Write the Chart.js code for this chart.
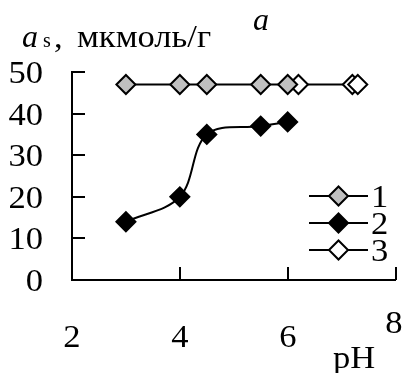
<!DOCTYPE html>
<html><head><meta charset="utf-8">
<script src="https://cdn.jsdelivr.net/npm/chart.js@4/dist/chart.umd.min.js"></script>
<style>html,body{margin:0;padding:0;background:#fff}#wrap{width:407px;height:373px}</style>
</head><body><div id="wrap"><canvas id="c" width="407" height="373"></canvas></div>
<script>
const series1X = [3, 4, 4.5, 5.5, 6];
const series1Y = [47, 47, 47, 47, 47];
const series2X = [3, 4, 4.5, 5.5, 6];
const series2Y = [14, 20, 35, 37, 38];
const series3X = [6.2, 7.2, 7.3];
const series3Y = [47, 47, 47];
const seriesNames = ['1', '2', '3'];
const xTicks = [2, 4, 6, 8];
const yTicks = [0, 10, 20, 30, 40, 50];
const FONT = '"Liberation Serif", "Times New Roman", serif';
const SX = 1.08;

function pts(xs, ys){ return xs.map((x,i)=>({x, y: ys[i]})); }

const fills = ['#c0c0c0', '#000000', '#ffffff'];
const datasets = [
  {label: seriesNames[0], data: pts(series1X, series1Y)},
  {label: seriesNames[1], data: pts(series2X, series2Y)},
  {label: seriesNames[2], data: pts(series3X, series3Y)}
].map((d,i)=>Object.assign(d,{
  borderColor:'#000', borderWidth:2, tension:0.35,
  pointStyle:'rectRot', pointRadius:9.5, pointBorderWidth:2,
  pointBackgroundColor: fills[i], pointBorderColor:'#000', fill:false
}));

function txt(ctx, s, x, y, size, style, align, sx){
  ctx.save();
  ctx.translate(x, y); ctx.scale(sx || SX, 1);
  ctx.font = (style ? style + ' ' : '') + size + 'px ' + FONT;
  ctx.textAlign = align || 'left';
  ctx.textBaseline = 'alphabetic';
  ctx.fillStyle = '#000';
  ctx.fillText(s, 0, 0);
  ctx.restore();
}

const decor = {
  id:'decor',
  afterDraw(chart){
    const ctx = chart.ctx, xs = chart.scales.x, ys = chart.scales.y;
    ctx.save();
    ctx.strokeStyle = '#000'; ctx.lineWidth = 2;
    // inward ticks + tick labels
    yTicks.forEach(v=>{ const p = Math.round(ys.getPixelForValue(v));
      ctx.beginPath(); ctx.moveTo(xs.left, p); ctx.lineTo(xs.left+13, p); ctx.stroke();
      txt(ctx, String(v), 43, p + 11, 32, '', 'right');
    });
    xTicks.forEach((v,i)=>{ const p = Math.round(xs.getPixelForValue(v));
      ctx.beginPath(); ctx.moveTo(p, ys.bottom); ctx.lineTo(p, ys.bottom-13); ctx.stroke();
      const yb = (i === xTicks.length-1) ? 333 : 347;
      txt(ctx, String(v), p - (i === xTicks.length-1 ? 2 : 0), yb, 32, '', 'center');
    });
    // legend
    const lx0 = 309, lx1 = 368, lys = [196, 223, 250];
    chart.data.datasets.forEach((d,i)=>{
      const y = lys[i];
      ctx.beginPath(); ctx.moveTo(lx0, y); ctx.lineTo(lx1, y); ctx.stroke();
      ctx.fillStyle = fills[i];
      ctx.beginPath();
      const r = 9.5, cx=(lx0+lx1)/2;
      ctx.moveTo(cx-r,y); ctx.lineTo(cx,y-r); ctx.lineTo(cx+r,y); ctx.lineTo(cx,y+r); ctx.closePath();
      ctx.fill(); ctx.stroke();
      txt(ctx, d.label, 371, y + 11, 32, '', 'left');
    });
    // titles
    txt(ctx, 'a', 253, 30, 32, 'italic', 'left', 1);
    txt(ctx, 'a', 22, 47, 32, 'italic', 'left', 1);
    txt(ctx, 's', 43, 47, 20, '', 'left', 1);
    txt(ctx, ',', 54, 47, 32, '', 'left');
    txt(ctx, 'мкмоль/г', 77, 47, 32, '', 'left');
    txt(ctx, 'pH', 333, 368, 32, '', 'left');
    ctx.restore();
  }
};

new Chart(document.getElementById('c'), {
  type:'line',
  data:{datasets},
  options:{
    responsive:false, animation:false, devicePixelRatio:1,
    layout:{padding:{left:0, right:10, top:72, bottom:0}},
    plugins:{legend:{display:false}, tooltip:{enabled:false}, title:{display:false}},
    scales:{
      x:{type:'linear', min:2, max:8,
        afterBuildTicks: s => { s.ticks = xTicks.map(v=>({value:v})); },
        afterFit: s => { s.height = 93; s.paddingLeft = 0; s.paddingRight = 0; },
        grid:{display:true, drawOnChartArea:false, drawTicks:false},
        border:{display:true, color:'#000', width:2},
        ticks:{display:false}
      },
      y:{type:'linear', min:0, max:50,
        afterBuildTicks: s => { s.ticks = yTicks.map(v=>({value:v})); },
        afterFit: s => { s.width = 72; s.paddingTop = 0; s.paddingBottom = 0; },
        grid:{display:true, drawOnChartArea:false, drawTicks:false},
        border:{display:true, color:'#000', width:2},
        ticks:{display:false}
      }
    }
  },
  plugins:[decor]
});
</script></body></html>
